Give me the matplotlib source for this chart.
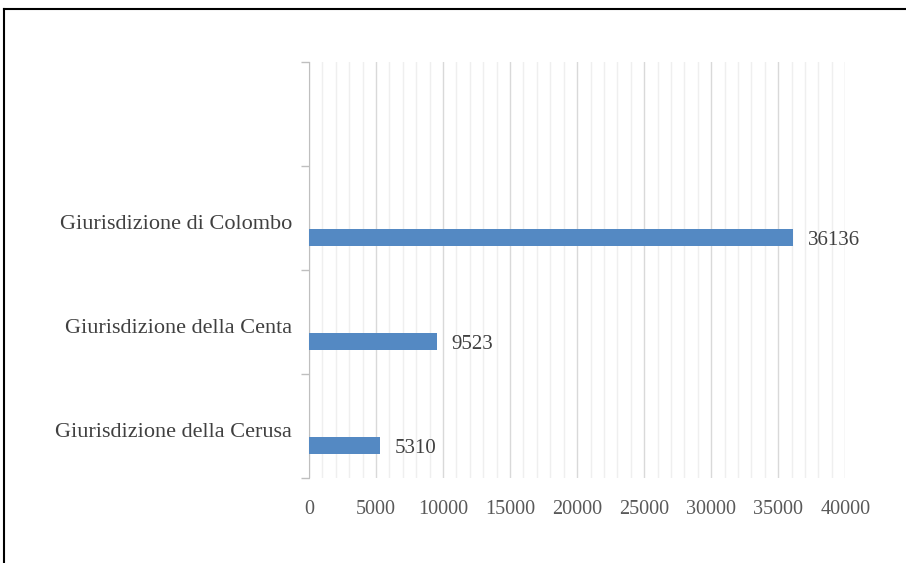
import matplotlib.pyplot as plt
from matplotlib.lines import Line2D
from matplotlib.ticker import MultipleLocator

# giurisdizioni, dal basso verso l'alto (la quarta fascia resta vuota)
categorie = ["Giurisdizione della Cerusa", "Giurisdizione della Centa",
             "Giurisdizione di Colombo", ""]
valori = [5310, 9523, 36136, None]
xticks = [0, 5000, 10000, 15000, 20000, 25000, 30000, 35000, 40000]

plt.rcParams['font.family'] = ['Liberation Serif', 'DejaVu Serif']

fig = plt.figure(figsize=(9.06, 5.63), dpi=100)
ax = fig.add_axes([0.341, 0.151, 0.592, 0.739])

colore = '#5489C3'
offset = -0.19
altezza = 0.165
for i, v in enumerate(valori):
    if v is None:
        continue
    ax.barh(i + offset, v, height=altezza, color=colore, zorder=3)
    ax.text(v + 1100, i + offset - 0.03, str(v), va='center', ha='left',
            fontsize=15, color='#404040')

ax.set_xlim(0, 40000)
ax.set_ylim(-0.5, 3.5)
ax.set_xticks(xticks)
ax.set_xticklabels([str(t) for t in xticks])
ax.xaxis.set_minor_locator(MultipleLocator(1000))
ax.grid(axis='x', which='major', color='#d9d9d9', linewidth=1.0, zorder=0)
ax.grid(axis='x', which='minor', color='#efefef', linewidth=1.0, zorder=0)
ax.tick_params(axis='x', which='both', length=0, labelsize=14.5,
               labelcolor='#595959', pad=16)

# tacche tra le categorie, etichette al centro delle fasce
ax.set_yticks([-0.5, 0.5, 1.5, 2.5, 3.5])
ax.set_yticklabels([])
ax.tick_params(axis='y', which='major', length=6, color='#bfbfbf', width=1)
ax.set_yticks([k - 0.035 for k in range(len(categorie))], minor=True)
ax.set_yticklabels(categorie, minor=True)
ax.tick_params(axis='y', which='minor', length=0, labelsize=16,
               labelcolor='#404040', pad=12)

for s in ['top', 'right', 'bottom']:
    ax.spines[s].set_visible(False)
ax.spines['left'].set_color('#bfbfbf')

# cornice esterna (solo bordo superiore e sinistro visibili)
fig.add_artist(Line2D([4 / 906, 1.0], [1 - 9 / 563, 1 - 9 / 563],
                      color='black', linewidth=1.5, transform=fig.transFigure))
fig.add_artist(Line2D([4 / 906, 4 / 906], [0.0, 1 - 9 / 563],
                      color='black', linewidth=1.5, transform=fig.transFigure))

fig.savefig('out.png', dpi=100)
